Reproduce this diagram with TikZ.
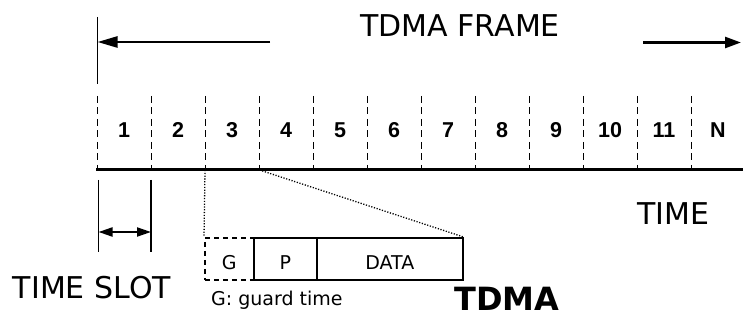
\documentclass[tikz,border=0pt]{standalone}
\usepackage{fontspec}
\setmainfont{DejaVu Sans}
\newfontfamily\numfont{Liberation Sans}
\usetikzlibrary{arrows.meta}
\begin{document}
\begin{tikzpicture}[x=1pt,y=-1pt,
  big/.style={font=\fontsize{30}{36}\selectfont, inner sep=0pt, anchor=base},
  bigbold/.style={font=\bfseries\fontsize{32}{38}\selectfont, inner sep=0pt, anchor=base},
  num/.style={font=\numfont\bfseries\fontsize{21.5}{25}\selectfont, inner sep=0pt, anchor=base},
  small/.style={font=\fontsize{19}{23}\selectfont, inner sep=0pt},
  slotline/.style={line width=1.4pt, dash pattern=on 7pt off 4.5pt},
  field/.style={small, line width=1.6pt, minimum height=42pt, text height=22pt, text depth=0pt, anchor=north west},
  solidfield/.style={field, draw},
  guardfield/.style={field, draw, dash pattern=on 5pt off 4pt},
  frame/.style={line width=1.8pt},
  bigarrow/.style={line width=2.5pt},
  zoomline/.style={line width=1.3pt, dash pattern=on 1.2pt off 1.6pt}
]
\useasboundingbox (0,0) rectangle (743,320);

% coordinates
\coordinate (ftop) at (97.5,17);
\coordinate (fbot) at (97.5,84);
\coordinate (la0) at (270,42);
\coordinate (la1) at (97.5,42);
\coordinate (ra0) at (643,42.5);
\coordinate (ra1) at (741,42.5);
\coordinate (b0) at (96,170);
\coordinate (b1) at (743,170);

% frame marker and arrows
\draw[frame] (ftop) -- (fbot);
\draw[bigarrow, -{Triangle[length=20pt,width=11pt]}] (la0) -- (la1);
\draw[bigarrow, -{Triangle[length=16pt,width=11pt]}] (ra0) -- (ra1);
\node[big] (title) at (460,37) {TDMA FRAME};

% slot dividers
\foreach \k in {0,...,11} {
  \coordinate (s\k top) at ({97.5+54*\k},96);
  \coordinate (s\k bot) at ({97.5+54*\k},170);
  \draw[slotline] (s\k top) -- (s\k bot);
}
% time axis
\draw[line width=3pt] (b0) -- (b1);

% slot numbers
\foreach \i/\t in {1/1,2/2,3/3,4/4,5/5,6/6,7/7,8/8,9/9,10/10,11/11,12/N} {
  \node[num] (n\i) at ({97.5+54*(\i-1)+26.5},137.5) {\t};
}

\node[big] (time) at (673,225) {TIME};

% time slot marker
\coordinate (t0a) at (98.5,180);
\coordinate (t0b) at (98.5,252);
\coordinate (t1a) at (151,180);
\coordinate (t1b) at (151,252);
\coordinate (ta0) at (98.5,232);
\coordinate (ta1) at (151,232);
\draw[frame] (t0a) -- (t0b);
\draw[frame] (t1a) -- (t1b);
\draw[line width=2pt, {Triangle[length=14pt,width=9pt]}-{Triangle[length=14pt,width=9pt]}] (ta0) -- (ta1);
\node[big] (tslot) at (92,298) {TIME SLOT};

% slot burst
\node[guardfield, minimum width=49pt] (G) at (204,237) {G};
\node[solidfield, minimum width=63pt] (P) at (253,237) {P};
\node[solidfield, minimum width=146pt] (DATA) at (316,237) {DATA};

\coordinate (z0) at (205,170);
\coordinate (z1) at (259.5,170);
\draw[zoomline] (z0) -- (G.north west);
\draw[zoomline] (z1) -- (DATA.north east);

\node[small, anchor=base west] (gt) at (211,305) {G: guard time};
\node[bigbold] (tdma) at (507,310) {TDMA};
\end{tikzpicture}
\end{document}
